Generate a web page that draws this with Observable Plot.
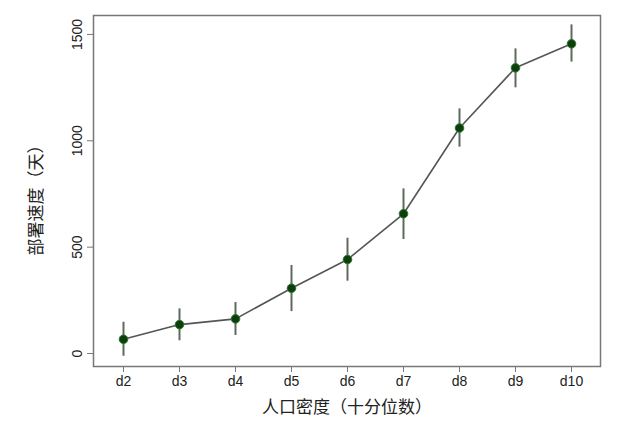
<!DOCTYPE html>
<html>
<head>
<meta charset="utf-8">
<script src="https://cdn.jsdelivr.net/npm/d3@7"></script>
<script src="https://cdn.jsdelivr.net/npm/@observablehq/plot@0.6"></script>
<style>
  html, body { margin: 0; padding: 0; background: #fff; }
</style>
</head>
<body>
<div id="chart"></div>
<script>
const deciles = ["d2", "d3", "d4", "d5", "d6", "d7", "d8", "d9", "d10"];
const speed = [67, 136, 163, 307, 442, 657, 1060, 1343, 1456];
const lower = [-13, 60, 85, 197, 340, 536, 970, 1249, 1370];
const upper = [147, 210, 240, 414, 542, 774, 1150, 1432, 1545];
const yTicks = [0, 500, 1000, 1500];
const xLabel = "人口密度（十分位数）";
const yLabel = "部署速度（天）";

const data = deciles.map((d, i) => ({ d, v: speed[i], lo: lower[i], hi: upper[i] }));
const cjk = "'Noto Sans CJK SC', 'Liberation Sans', sans-serif";

const chart = Plot.plot({
  width: 640,
  height: 424,
  marginTop: 15,
  marginBottom: 58,
  marginLeft: 93,
  marginRight: 40,
  style: { fontFamily: "'Liberation Sans', 'Noto Sans CJK SC', sans-serif", fontSize: "14px", color: "#222", background: "#fff" },
  x: { type: "point", domain: deciles, padding: 0.5 },
  y: { domain: [-61, 1589] },
  marks: [
    Plot.frame({ stroke: "#777", strokeWidth: 1.5 }),
    Plot.axisX({ tickSize: 6, tickPadding: 4, fontSize: 14, stroke: "#777", label: null }),
    Plot.axisY({ ticks: yTicks, tickFormat: d => String(d), tickSize: 6, tickPadding: 6, fontSize: 14, stroke: "#777", tickRotate: -90, textAnchor: "middle", lineAnchor: "bottom", label: null }),
    Plot.text([xLabel], { frameAnchor: "bottom", textAnchor: "middle", dy: 46, fontSize: 17, fontFamily: cjk, fill: "#222" }),
    Plot.text([yLabel], { frameAnchor: "left", textAnchor: "middle", dx: -57, dy: 5, rotate: -90, fontSize: 17, fontFamily: cjk, fill: "#222" }),
    Plot.ruleX(data, { x: "d", y1: "lo", y2: "hi", stroke: "#5d6b5d", strokeWidth: 2 }),
    Plot.line(data, { x: "d", y: "v", stroke: "#555", strokeWidth: 1.6 }),
    Plot.dot(data, { x: "d", y: "v", r: 4.3, fill: "#0d3f0d", stroke: "#2e752e", strokeWidth: 1 })
  ]
});
document.getElementById("chart").appendChild(chart);
</script>
</body>
</html>
